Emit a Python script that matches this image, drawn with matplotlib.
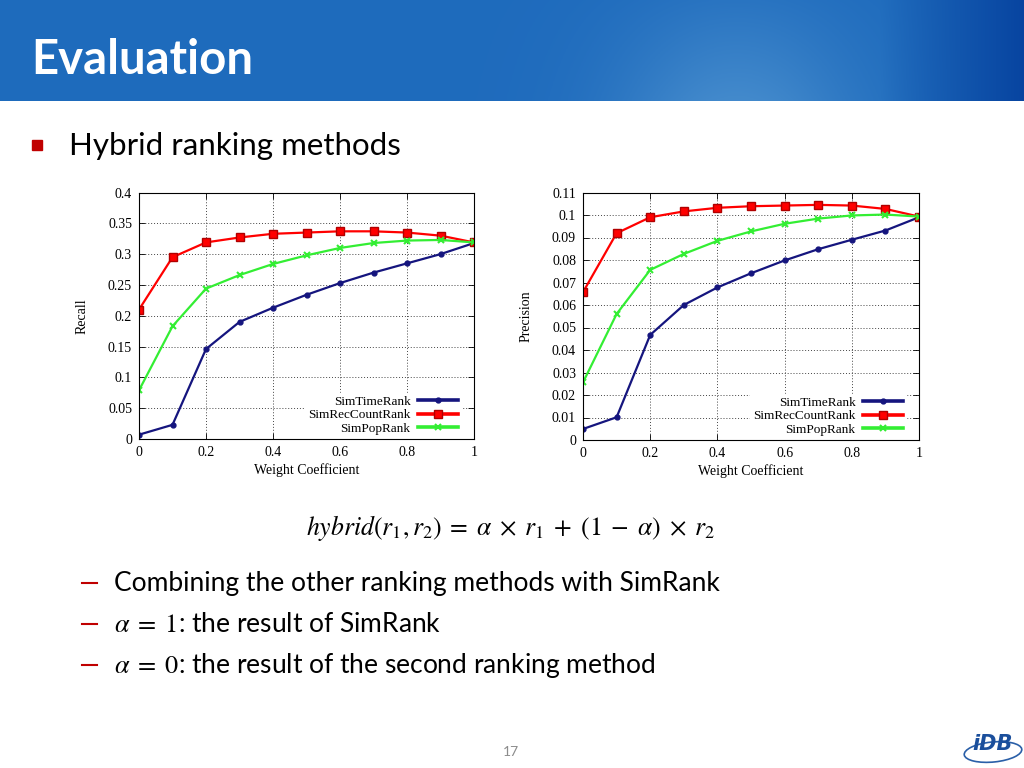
# %%
import numpy as np
import matplotlib.pyplot as plt
from matplotlib.patches import Rectangle, Ellipse
from matplotlib.lines import Line2D
from matplotlib.ticker import FuncFormatter

# %%
weights = [0.0, 0.1, 0.2, 0.3, 0.4, 0.5, 0.6, 0.7, 0.8, 0.9, 1.0]
series_names = ['SimTimeRank', 'SimRecCountRank', 'SimPopRank']

recall_time = [0.007, 0.023, 0.146, 0.190, 0.213, 0.234, 0.253, 0.270, 0.285, 0.300, 0.318]
recall_count = [0.210, 0.295, 0.319, 0.327, 0.333, 0.335, 0.337, 0.337, 0.335, 0.330, 0.319]
recall_pop = [0.079, 0.183, 0.244, 0.266, 0.284, 0.298, 0.310, 0.318, 0.322, 0.323, 0.319]

prec_time = [0.0049, 0.0101, 0.0467, 0.0600, 0.0678, 0.0741, 0.0798, 0.0848, 0.0890, 0.0931, 0.0990]
prec_count = [0.0657, 0.0919, 0.0990, 0.1016, 0.1032, 0.1039, 0.1042, 0.1045, 0.1042, 0.1027, 0.0993]
prec_pop = [0.0256, 0.0560, 0.0756, 0.0827, 0.0885, 0.0927, 0.0961, 0.0984, 0.0998, 0.1002, 0.0993]

recall_yticks = [0, 0.05, 0.1, 0.15, 0.2, 0.25, 0.3, 0.35, 0.4]
prec_yticks = [0, 0.01, 0.02, 0.03, 0.04, 0.05, 0.06, 0.07, 0.08, 0.09, 0.1, 0.11]
x_ticks = [0, 0.2, 0.4, 0.6, 0.8, 1]

bullets = ['Combining the other ranking methods with SimRank',
           r'$\alpha\;=\;1$: the result of SimRank',
           r'$\alpha\;=\;0$: the result of the second ranking method']

# %%
plt.rcParams['mathtext.fontset'] = 'stix'
body_font = 'Lato'
serif = 'Liberation Serif'

fig = plt.figure(figsize=(10.24, 7.68), dpi=100)
fig.patch.set_facecolor('white')

# header band with a soft blue gradient
hdr = fig.add_axes([0, 1 - 101 / 768, 1, 101 / 768])
xx = np.linspace(0, 1, 400)
yy = np.linspace(0, 1, 60)[:, None]
glow = 0.55 * np.exp(-((xx - 0.72) / 0.12) ** 2) * (1.0 - 0.7 * yy)
edge = np.clip((xx - 0.86) / 0.14, 0, 1)
base = np.array([0.12, 0.42, 0.74])
light = np.array([0.38, 0.64, 0.85])
dark = np.array([0.03, 0.27, 0.63])
img = (base[None, None, :] * (1 - glow[..., None]) + light[None, None, :] * glow[..., None])
img = img * (1 - edge[None, :, None]) + dark[None, None, :] * edge[None, :, None]
hdr.imshow(img, aspect='auto', extent=[0, 1, 0, 1], origin='lower')
hdr.axis('off')

fig.text(31 / 1024, 1 - 60 / 768, 'Evaluation', color='white',
         fontsize=34, fontweight='bold', family=body_font, va='center')

# bullet line
fig.patches.append(Rectangle((32 / 1024, 1 - 150 / 768), 10 / 1024, 10 / 768,
                             transform=fig.transFigure, color='#c00000'))
fig.text(69 / 1024, 1 - 146 / 768, 'Hybrid ranking methods', fontsize=22.5,
         family=body_font, va='center', color='black')


def draw_panel(rect, ys, yticks, ylabel):
    ax = fig.add_axes(rect)
    styles = [dict(color='#15157e', marker='o', ms=3.5, mfc='#15157e', mec='#15157e'),
              dict(color='#ff0000', marker='s', ms=5.5, mfc='#ff0000', mec='#b00000'),
              dict(color='#33ee33', marker='x', ms=5, mew=1.5)]
    for name, y, st in zip(series_names, ys, styles):
        ax.plot(weights, y, lw=1.6, label=name, **st)
    ax.set_xlim(0, 1)
    ax.set_ylim(yticks[0], yticks[-1])
    ax.set_xticks(x_ticks)
    ax.set_yticks(yticks)
    ax.xaxis.set_major_formatter(FuncFormatter(lambda v, p: '%g' % v))
    ax.yaxis.set_major_formatter(FuncFormatter(lambda v, p: '%g' % round(v, 3)))
    ax.grid(True, color='#444444', linestyle=(0, (1, 2)), linewidth=0.7)
    ax.tick_params(direction='in', top=True, right=True, length=4, width=0.6,
                   labelsize=10, pad=5)
    for lbl in ax.get_xticklabels() + ax.get_yticklabels():
        lbl.set_family(serif)
    for s in ax.spines.values():
        s.set_linewidth(0.8)
        s.set_zorder(6)
    ax.set_xlabel('Weight Coefficient', family=serif, fontsize=10, labelpad=3)
    ax.set_ylabel(ylabel, family=serif, fontsize=10, labelpad=14)
    leg = ax.legend(loc='lower right', bbox_to_anchor=(0.96, 0.006), markerfirst=False,
                    frameon=True, fancybox=False, edgecolor='white', framealpha=1,
                    prop={'family': serif, 'size': 9.5}, handlelength=3.0,
                    labelspacing=0.1, borderpad=0.2, borderaxespad=0.0,
                    handletextpad=0.6)
    for line in leg.get_lines():
        line.set_linewidth(2.6)
    for t in leg.get_texts():
        t.set_ha('right')
    return ax


draw_panel([139 / 1024, 1 - 439 / 768, 335 / 1024, 246.5 / 768],
           [recall_time, recall_count, recall_pop], recall_yticks, 'Recall')
draw_panel([583 / 1024, 1 - 440 / 768, 336 / 1024, 247.5 / 768],
           [prec_time, prec_count, prec_pop], prec_yticks, 'Precision')

# formula
fig.text(511 / 1024, 1 - 528 / 768,
         r'$hybrid(r_1,r_2)\;=\;\alpha\;\times\;r_1\;+\;(1\;-\;\alpha)\;\times\;r_2$',
         fontsize=18.5, ha='center', va='center', color='black')

# sub bullets
for i, txt in enumerate(bullets):
    yc = 1 - (583 + 41 * i) / 768
    fig.lines.append(Line2D([82 / 1024, 97 / 1024], [yc, yc], transform=fig.transFigure,
                            color='#c00000', lw=1.5))
    fig.text(114 / 1024, yc, txt, fontsize=19, family=body_font, va='center',
             color='black')

fig.text(511 / 1024, 1 - 752 / 768, '17', fontsize=10, color='#8c8c8c',
         ha='center', va='center', family=body_font)

# logo
fig.patches.append(Ellipse((993 / 1024, 1 - 752 / 768), 58 / 1024, 20 / 768,
                           angle=8, transform=fig.transFigure, fill=False,
                           ec='#2a5fa8', lw=1.2))
fig.text(993 / 1024, 1 - 744 / 768, 'iDB', fontsize=15, fontweight='bold',
         style='italic', color='#1b4f9c', ha='center', va='center', family='DejaVu Sans')

plt.savefig('out.png', dpi=100, facecolor='white')
